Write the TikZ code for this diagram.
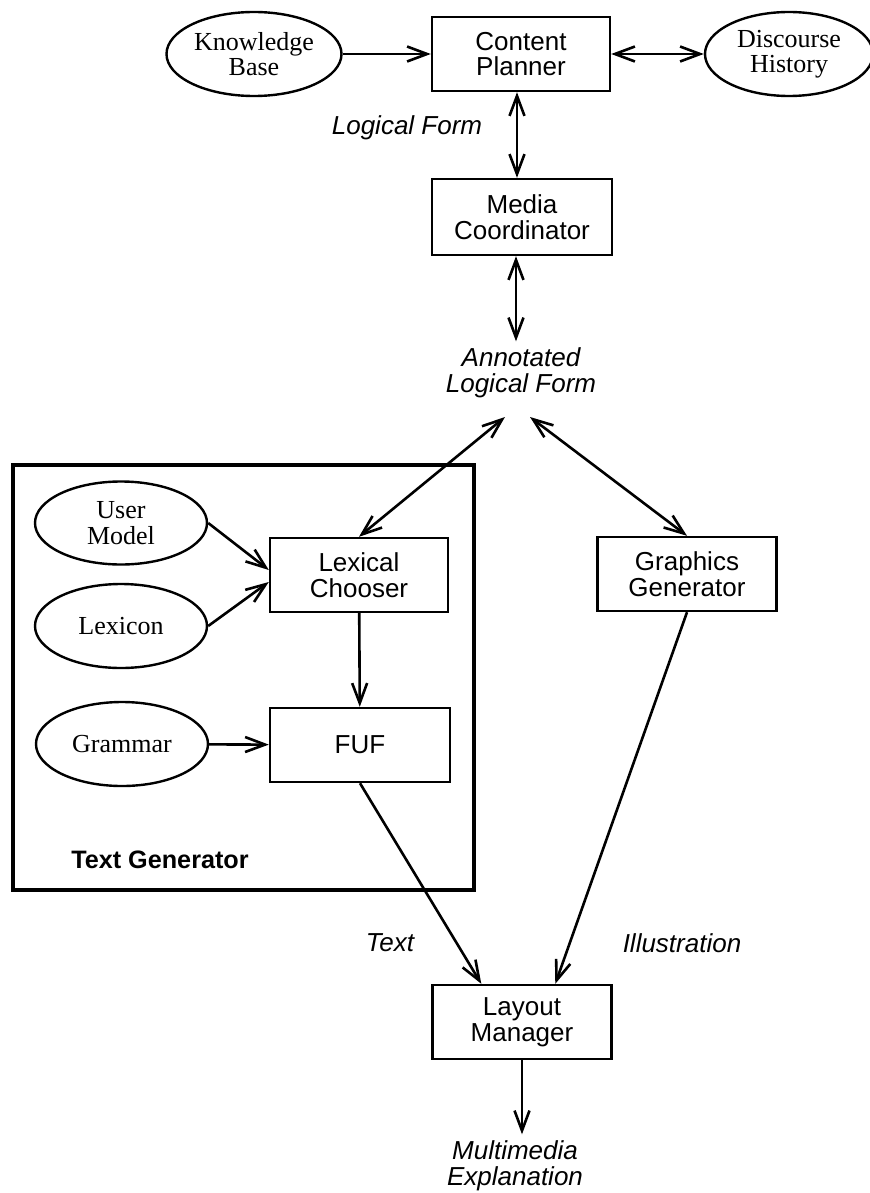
\documentclass[tikz,border=0pt]{standalone}
\usepackage{fontspec}
\setmainfont{Liberation Serif}
\setsansfont{Liberation Sans}
\usetikzlibrary{shapes.geometric,arrows.meta}

\begin{document}
\begin{tikzpicture}[x=0.5pt,y=-0.5pt,
  box/.style={draw, line width=1.2pt, minimum width=89pt, minimum height=37pt, inner sep=0pt, align=center, font=\sffamily\fontsize{13}{12.8}\selectfont},
  store/.style={draw, ellipse, line width=1.2pt, minimum width=86pt, minimum height=42pt, inner sep=0pt, align=center, font=\rmfamily\fontsize{13}{12.8}\selectfont},
  data/.style={align=center, inner sep=3pt, font=\sffamily\itshape\fontsize{13}{13.2}\selectfont},
  frame/.style={draw, line width=2.2pt, inner sep=0pt, minimum width=230.5pt, minimum height=212.5pt},
  conn/.style={-{Straight Barb[length=10pt,width=7.5pt]}, line width=1.3pt},
  dconn/.style={{Straight Barb[length=10pt,width=7.5pt]}-{Straight Barb[length=10pt,width=7.5pt]}, line width=1.3pt}]
\useasboundingbox (0,0) rectangle (870,1193);

\node[frame] (tg) at (243.5,677.5) {};
\node[font=\sffamily\bfseries\fontsize{12.6}{12.6}\selectfont] (tglabel) at (160,860) {Text Generator};

\node[store, minimum width=87.5pt] (kb) at (254,54) {Knowledge\\Base};
\node[box] (cp) at (521,54) {Content\\Planner};
\node[store, minimum width=84pt] (dh) at (789,54) {Discourse\\History};
\node[data] (lf) at (407,128) {Logical Form};
\node[box, minimum width=90pt, minimum height=38pt] (mc) at (522,217) {Media\\Coordinator};
\node[data] (alf) at (521,373) {Annotated\\Logical Form};
\coordinate (alfl) at (505,417);
\coordinate (alfr) at (530,417);

\node[store, minimum height=41.5pt] (um) at (121,523) {User\\Model};
\node[store] (lex) at (121,626) {Lexicon};
\node[store] (gram) at (122,744) {Grammar};
\node[box] (lc) at (359,575) {Lexical\\Chooser};
\node[box, minimum width=90pt] (fuf) at (360,745) {FUF};
\node[box, minimum width=89.5pt] (gg) at (687,574) {Graphics\\Generator};

\node[data] (txt) at (390,943) {Text};
\node[data] (ill) at (682,943) {Illustration};
\node[box, minimum width=89.5pt] (lm) at (522,1022) {Layout\\Manager};
\node[data] (me) at (515,1166) {Multimedia\\Explanation};

\draw[conn] (kb) -- (cp);
\draw[dconn] (cp) -- (dh);
\draw[dconn] ([xshift=-2pt]cp.south) -- ([xshift=-2pt]cp.south |- mc.north);
\draw[dconn] ([xshift=-3pt]mc.south) -- ([xshift=-3pt]mc.south |- alf.north);
\draw[dconn] (alfl) -- (lc.north);
\draw[dconn] (alfr) -- (gg.north);
\draw[conn] (um.east) -- ([yshift=2.5pt]lc.west);
\draw[conn] (lex.east) -- ([yshift=-3.5pt]lc.west);
\draw[conn] (lc) -- (fuf);
\draw[conn] (gram) -- (fuf);
\draw[conn] (fuf.south) -- ([xshift=25pt]lm.north west);
\draw[conn] (gg.south) -- ([xshift=62pt]lm.north west);
\draw[conn] (lm.south) -- (lm.south |- me.north);
\end{tikzpicture}
\end{document}
